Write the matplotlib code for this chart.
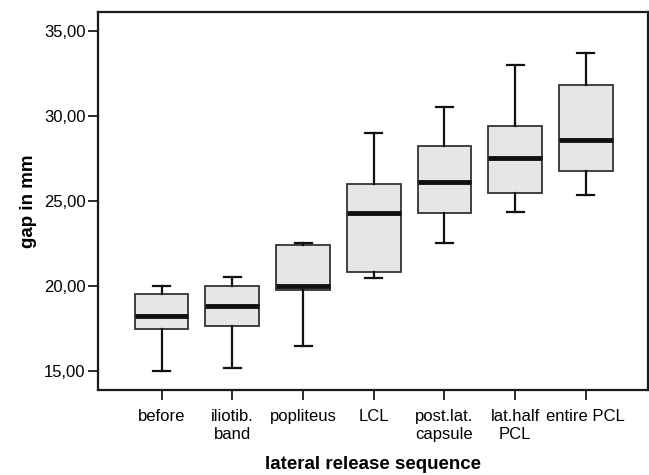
import matplotlib
matplotlib.use("Agg")
import matplotlib.pyplot as plt
from matplotlib.ticker import FuncFormatter

plt.rcParams['font.family'] = ['Liberation Sans', 'DejaVu Sans']

# release steps (x categories)
labels = ['before', 'iliotib.\nband', 'popliteus', 'LCL', 'post.lat.\ncapsule',
          'lat.half\nPCL', 'entire PCL']

# box plot statistics (mm)
whisker_low = [15.00, 15.16, 16.45, 20.47, 22.49, 24.34, 25.34]
q1 = [17.47, 17.65, 19.75, 20.82, 24.26, 25.43, 26.75]
median = [18.24, 18.82, 19.98, 24.26, 26.08, 27.51, 28.59]
q3 = [19.49, 19.98, 22.39, 26.00, 28.24, 29.39, 31.82]
whisker_high = [20.00, 20.49, 22.49, 29.00, 30.51, 33.00, 33.69]

stats = []
for i in range(len(labels)):
    stats.append({'whislo': whisker_low[i], 'q1': q1[i], 'med': median[i],
                  'q3': q3[i], 'whishi': whisker_high[i], 'fliers': []})

fig = plt.figure(figsize=(6.49, 4.75), dpi=100)
ax = fig.add_axes([0.151, 0.179, 0.8475, 0.796])

edge = '#333333'
ax.bxp(stats, positions=range(1, 8), widths=0.76, capwidths=0.24,
       patch_artist=True, showfliers=False,
       boxprops=dict(facecolor='#e6e6e8', edgecolor=edge, linewidth=1.3),
       medianprops=dict(color='#111111', linewidth=3.5, solid_capstyle='butt'),
       whiskerprops=dict(color='#111111', linewidth=1.6),
       capprops=dict(color='#111111', linewidth=1.6))

ax.set_xlim(0.1, 7.88)
ax.set_ylim(13.86, 36.1)
ax.set_yticks([15, 20, 25, 30, 35])
ax.yaxis.set_major_formatter(FuncFormatter(lambda v, p: f'{v:.2f}'.replace('.', ',')))
ax.set_xticks(range(1, 8))
ax.set_xticklabels(labels, linespacing=1.25)

for s in ax.spines.values():
    s.set_linewidth(1.6)
    s.set_color('#1a1a1a')
ax.tick_params(axis='both', direction='out', length=7, width=1.3, color='#1a1a1a',
               labelsize=12)
ax.tick_params(axis='x', pad=7)
ax.tick_params(axis='y', pad=2)

ax.set_ylabel('gap in mm', fontsize=13.5, fontweight='bold', labelpad=5)
ax.set_xlabel('lateral release sequence', fontsize=13.5, fontweight='bold', labelpad=10)

fig.savefig('out.png', dpi=100)
